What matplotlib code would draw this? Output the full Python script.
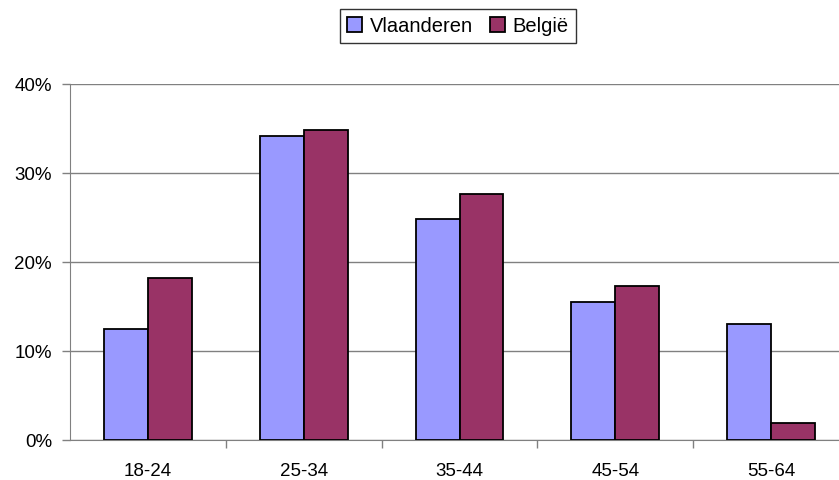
import matplotlib
matplotlib.use("Agg")
import matplotlib.pyplot as plt
import numpy as np
from matplotlib.ticker import FixedLocator, FuncFormatter

categories = ["18-24", "25-34", "35-44", "45-54", "55-64"]
vlaanderen = [12.4, 34.2, 24.8, 15.5, 13.0]
belgie = [18.2, 34.8, 27.6, 17.3, 1.9]
series_names = ["Vlaanderen", "België"]
yticks = [0, 10, 20, 30, 40]

plt.rcParams['font.family'] = ['Liberation Sans', 'DejaVu Sans']

fig = plt.figure(figsize=(8.39, 4.81), dpi=100)
ax = fig.add_axes([70/839, 40.3/481, 779/839, 355.7/481])

x = np.arange(len(categories))
w = 0.282
b1 = ax.bar(x - w/2, vlaanderen, w, color="#9999FF", edgecolor="black", linewidth=1.3, label=series_names[0], zorder=3)
b2 = ax.bar(x + w/2, belgie, w, color="#993366", edgecolor="black", linewidth=1.3, label=series_names[1], zorder=3)

ax.set_xlim(-0.5, len(categories) - 0.5)
ax.set_ylim(0, 40)
ax.set_yticks(yticks)
ax.yaxis.set_major_formatter(FuncFormatter(lambda v, p: f"{int(v)}%"))
ax.grid(axis='y', color="#808080", linewidth=1.0, zorder=0)
ax.set_axisbelow(True)

ax.set_xticks(x)
ax.set_xticklabels(categories)
ax.xaxis.set_minor_locator(FixedLocator(np.arange(0.5, len(categories) - 0.5, 1.0)))
ax.tick_params(axis='x', which='major', length=0, labelsize=13.5, pad=16)
ax.tick_params(axis='x', which='minor', length=6, color="#808080", width=1)
ax.tick_params(axis='y', length=6, color="#808080", width=1, labelsize=13.5, pad=7)

for s in ["top", "right"]:
    ax.spines[s].set_visible(False)
ax.spines["left"].set_color("#808080")
ax.spines["bottom"].set_color("#808080")

leg = fig.legend(handles=[b1, b2], labels=series_names, loc="center",
                 bbox_to_anchor=(458/839, 1 - 27/481), ncol=2, frameon=True,
                 fancybox=False, edgecolor="black", fontsize=14.5,
                 handlelength=0.75, handleheight=0.75, handletextpad=0.4,
                 columnspacing=0.8, borderpad=0.35)
leg.get_frame().set_linewidth(1.0)

fig.savefig("out.png", dpi=100)
